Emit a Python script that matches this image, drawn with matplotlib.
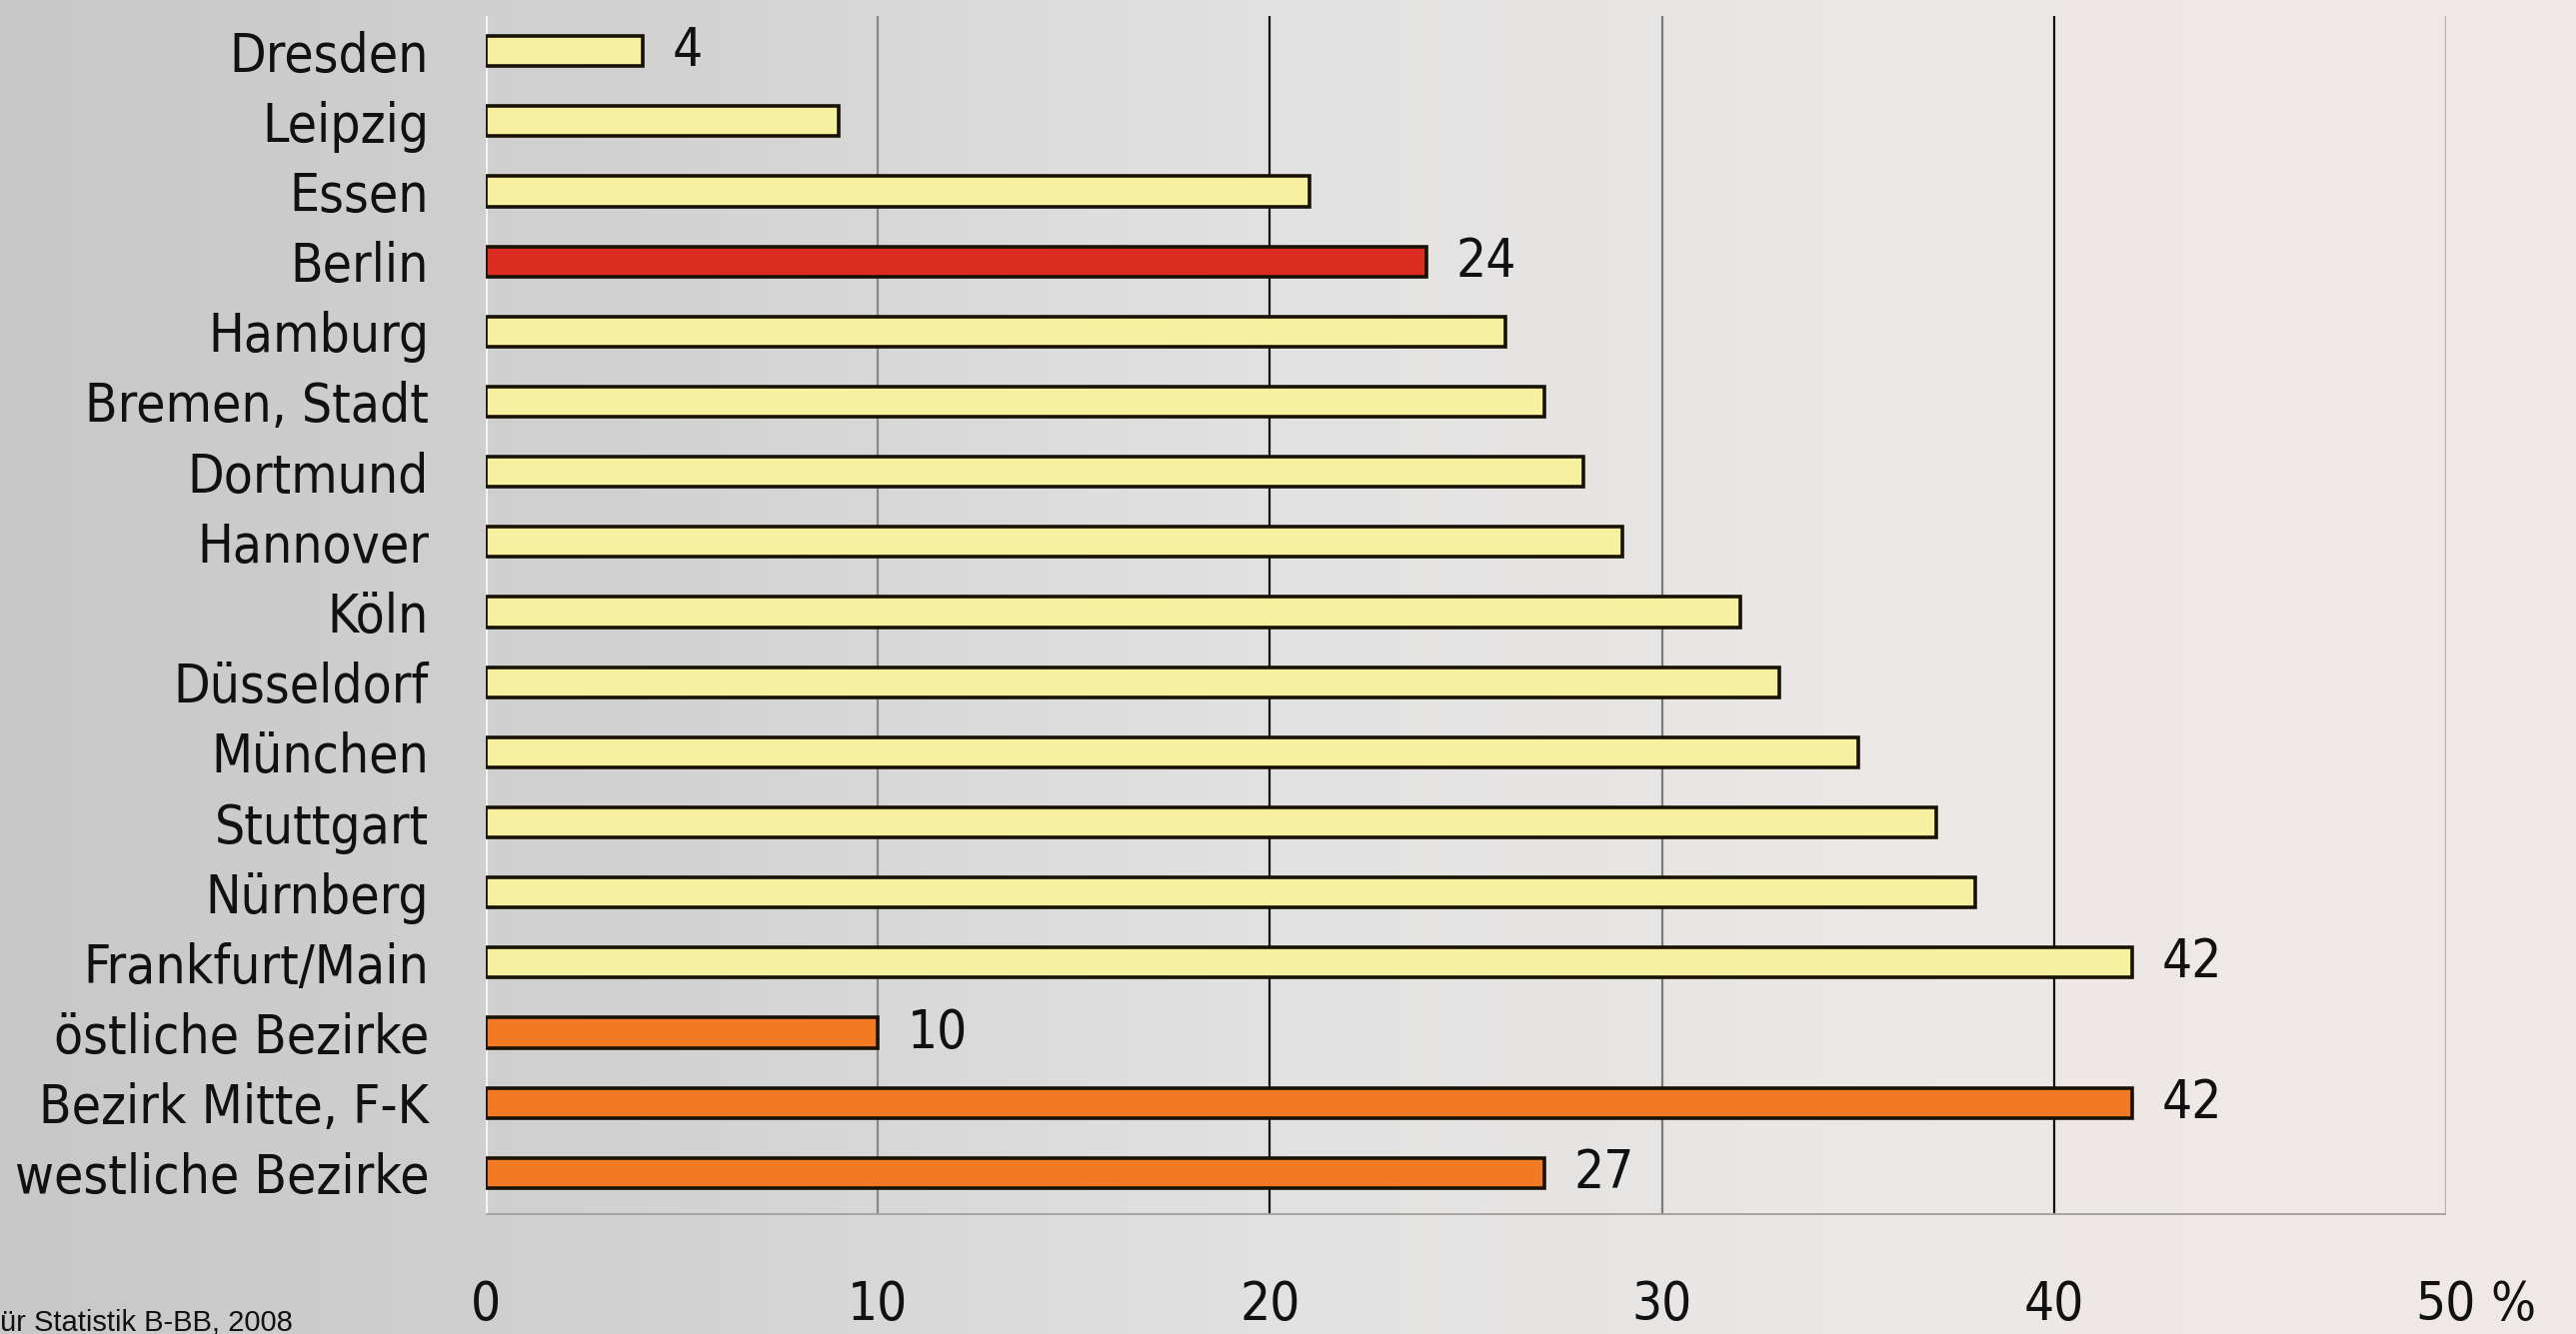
import numpy as np
import matplotlib.pyplot as plt
import matplotlib.font_manager as fm
from matplotlib.textpath import TextPath
from matplotlib.colors import LinearSegmentedColormap

# data (share in %)
cities = ["Dresden", "Leipzig", "Essen", "Berlin", "Hamburg", "Bremen, Stadt",
          "Dortmund", "Hannover", "Köln", "Düsseldorf", "München", "Stuttgart",
          "Nürnberg", "Frankfurt/Main", "östliche Bezirke", "Bezirk Mitte, F-K",
          "westliche Bezirke"]
values = [4, 9, 21, 24, 26, 27, 28, 29, 32, 33, 35, 37, 38, 42, 10, 42, 27]
groups = ["stadt"] * 3 + ["berlin"] + ["stadt"] * 10 + ["bezirk"] * 3
shown = {"Dresden": "4", "Berlin": "24", "Frankfurt/Main": "42",
         "östliche Bezirke": "10", "Bezirk Mitte, F-K": "42", "westliche Bezirke": "27"}
ticks = [0, 10, 20, 30, 40, 50]
source = "ür Statistik B-BB, 2008"

fill = {"stadt": "#f6f0a0", "berlin": "#dc2c22", "bezirk": "#f27a24"}

# the reference uses a very narrow grotesque; take the narrowest we have
names = {f.name for f in fm.fontManager.ttflist}
cond = [f for f in fm.fontManager.ttflist if f.name == "DejaVu Sans" and f.stretch == "condensed"]
if "Liberation Sans Narrow" in names:
    lab_font = fm.FontProperties(family="Liberation Sans Narrow")
elif cond:
    lab_font = fm.FontProperties(family="DejaVu Sans", stretch="condensed")
else:
    lab_font = fm.FontProperties(family="Liberation Sans")

# size the city labels so the longest one is as wide as in the reference (~410 px)
w100 = TextPath((0, 0), "westliche Bezirke", size=100, prop=lab_font).get_extents().width
lab_size = 100 * 410 / (w100 * 100 / 72)
num_size = min(lab_size * 1.35, 38)

fig = plt.figure(figsize=(25.77, 13.35), dpi=100)

# background gradient, grey on the left to a pale pink on the right
bg = fig.add_axes([0, 0, 1, 1], zorder=-10)
cmap = LinearSegmentedColormap.from_list("bg", ["#c8c8c8", "#d2d2d2", "#e2e2e2", "#ece8e6", "#f1e9e7"])
bg.imshow(np.linspace(0, 1, 256)[None, :], aspect="auto", cmap=cmap, extent=[0, 1, 0, 1])
bg.axis("off")

ax = fig.add_axes([486 / 2577, 1 - 1216 / 1335, (2447 - 486) / 2577, 1200 / 1335])
ax.patch.set_alpha(0)

y = np.arange(len(cities))
ax.barh(y, values, height=0.43, color=[fill[g] for g in groups],
        edgecolor="#181205", linewidth=2.6, zorder=3)

for yi, name, v in zip(y, cities, values):
    if name in shown:
        ax.text(v + 0.75, yi, shown[name], va="center", ha="left",
                fontproperties=lab_font, fontsize=num_size, color="#111111", zorder=4)

ax.set_xlim(0, 50)
ax.set_ylim(16.6, -0.5)

# vertical grid lines: 10/30 grey, 20/40 black, 50 pale
grid_col = {10: "#8a8a8a", 20: "#111111", 30: "#7a7a7a", 40: "#111111", 50: "#b8b0ae"}
for t, c in grid_col.items():
    ax.axvline(t, color=c, linewidth=1.6, zorder=1)
ax.axvline(0, color="#f4f4f4", linewidth=3, zorder=2)
ax.axhline(16.6, color="#a6a29e", linewidth=3.5, zorder=2)

for s in ax.spines.values():
    s.set_visible(False)

ax.set_yticks(y)
ax.set_yticklabels(cities, fontproperties=lab_font, fontsize=lab_size, color="#111111")
ax.set_xticks(ticks)
ax.set_xticklabels([str(t) for t in ticks], fontproperties=lab_font,
                   fontsize=num_size, color="#111111")
ax.tick_params(axis="y", length=0, pad=41)
ax.tick_params(axis="x", length=0, pad=46)

ax.annotate("%", xy=(51.7, 0), xycoords=("data", "axes fraction"),
            xytext=(0, -46), textcoords="offset points", ha="center", va="top",
            fontproperties=lab_font, fontsize=num_size, color="#111111")
fig.text(0.0, 3 / 1335, source, ha="left", va="baseline",
         fontsize=21, family="Liberation Sans", color="#111111")

fig.savefig("out.png", dpi=100)
